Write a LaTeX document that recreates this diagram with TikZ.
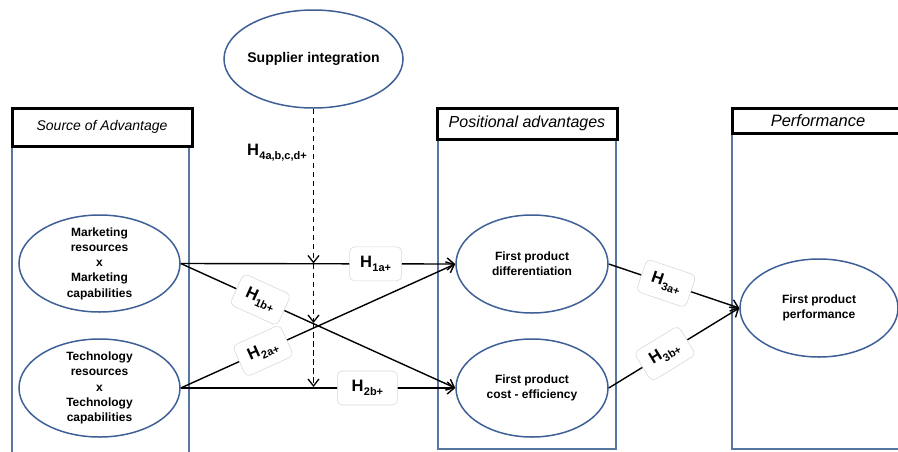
\documentclass[tikz,border=0pt]{standalone}
\usepackage{fontspec}
\setmainfont{Liberation Sans}
\usetikzlibrary{shapes.geometric,arrows.meta}
\definecolor{colblue}{RGB}{88,118,162}
\definecolor{ellblue}{RGB}{62,96,150}
\newcommand{\hyp}[1]{{\fontsize{16.5}{16.5}\selectfont\bfseries H}\kern0.3pt{\fontsize{11}{11}\selectfont\bfseries\raisebox{-4.5pt}{#1}}}
\begin{document}
\begin{tikzpicture}[x=1pt,y=-1pt,
  oval/.style={ellipse, draw=ellblue, fill=white, line width=1.5pt, inner sep=0pt},
  ovtext/.style={align=center, inner sep=0pt, font=\fontsize{12}{15.3}\selectfont\bfseries},
  header/.style={draw=black, fill=white, line width=3pt, inner sep=0pt},
  colline/.style={draw=colblue, line width=1.8pt},
  link/.style={draw=black, line width=1.4pt, -{Straight Barb[length=7pt,width=12pt,line width=1.4pt]}},
  dline/.style={draw=black, line width=1.4pt, dash pattern=on 5.5pt off 3.5pt, -{Straight Barb[length=7pt,width=11pt,line width=1.3pt]}},
  hlbl/.style={fill=white, draw=gray!30, line width=0.6pt, rounded corners=5pt, minimum width=52pt, minimum height=34pt, inner sep=0pt, sloped}
]
\useasboundingbox (0,0) rectangle (898,451);
\fill[white] (0,0) rectangle (898,451);

% columns
\draw[colline] (12,146) -- (12,455);
\draw[colline] (189,146) -- (189,455);
\draw[colline] (438,139) -- (438,449) -- (616,449) -- (616,139);
\draw[colline] (732,133) -- (732,449) -- (905,449);

% headers
\node[header, minimum width=180pt, minimum height=38pt, font=\fontsize{14}{14}\selectfont\itshape] (hsrc) at (102,127) {Source of Advantage};
\node[header, minimum width=180pt, minimum height=31pt, font=\fontsize{16}{16}\selectfont\itshape] (hpos) at (527,123.5) {Positional advantages};
\node[header, minimum width=172pt, minimum height=25pt, font=\fontsize{16.5}{16.5}\selectfont\itshape] (hperf) at (818,120.5) {Performance};

% ellipses
\node[oval, minimum width=179pt, minimum height=98pt,
  label={[ovtext, font=\fontsize{14}{14}\selectfont\bfseries]center:Supplier integration}] (sup) at (313.5,59) {};
\node[oval, minimum width=161pt, minimum height=97pt,
  label={[ovtext]center:{Marketing\\resources\\x\\Marketing\\capabilities}}] (mkt) at (99.5,263.5) {};
\node[oval, minimum width=161pt, minimum height=98pt,
  label={[ovtext]center:{Technology\\resources\\x\\Technology\\capabilities}}] (tech) at (99.5,388) {};
\node[oval, minimum width=152pt, minimum height=98pt,
  label={[ovtext]center:{First product\\differentiation}}] (diff) at (532,264) {};
\node[oval, minimum width=152pt, minimum height=98pt,
  label={[ovtext]center:{First product\\cost - efficiency}}] (cost) at (532,388) {};
\node[oval, minimum width=158pt, minimum height=98pt,
  label={[ovtext]center:{First product\\performance}}] (perf) at (819,308) {};

% moderator
\coordinate (d1) at (313.5,263.5);
\coordinate (d2) at (313.5,323);
\coordinate (d3) at (313.5,387);
\draw[dline] (sup.south) -- (d1);
\draw[dline] (d1) -- (d2);
\draw[dline] (d2) -- (d3);
\node[anchor=base west, inner sep=0pt] (h4) at (247,155) {\hyp{4a,b,c,d+}};

% hypotheses
\draw[link] (mkt.east) -- node[hlbl, pos=0.71] {\hyp{1a+}} (diff.west);
\draw[link] (mkt.east) -- node[hlbl, pos=0.29] {\hyp{1b+}} (cost.west);
\draw[link] (tech.east) -- node[hlbl, pos=0.30] {\hyp{2a+}} (diff.west);
\draw[link] (tech.east) -- node[hlbl, pos=0.68, minimum width=60pt] {\hyp{2b+}} (cost.west);
\draw[link] (diff.east) -- node[hlbl, pos=0.44] {\hyp{3a+}} (perf.west);
\draw[link] (cost.east) -- node[hlbl, pos=0.43] {\hyp{3b+}} (perf.west);
\end{tikzpicture}
\end{document}
